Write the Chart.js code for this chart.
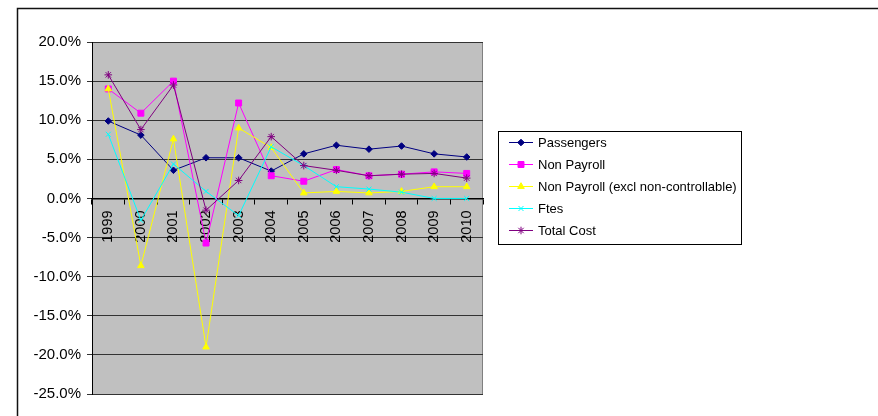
<!DOCTYPE html>
<html>
<head>
<meta charset="utf-8">
<script src="https://cdn.jsdelivr.net/npm/chart.js@4.4.0/dist/chart.umd.min.js"></script>
<style>
  html, body { margin: 0; padding: 0; background: #fff; }
  #wrap { width: 878px; height: 416px; position: relative; }
</style>
</head>
<body>
<div id="wrap"><canvas id="chart" width="878" height="416"></canvas></div>
<script>
// dati (variazione % anno su anno)
const years = ['1999', '2000', '2001', '2002', '2003', '2004', '2005', '2006', '2007', '2008', '2009', '2010'];
const passengers = [9.9, 8.1, 3.6, 5.2, 5.2, 3.5, 5.7, 6.8, 6.3, 6.7, 5.7, 5.3];
const nonPayroll = [14.0, 10.9, 15.0, -5.7, 12.2, 2.9, 2.2, 3.7, 2.9, 3.1, 3.4, 3.2];
const nonPayrollExcl = [14.0, -8.6, 7.6, -19.0, 9.0, 6.5, 0.7, 0.9, 0.7, 0.9, 1.5, 1.5];
const ftes = [8.2, -2.8, 4.4, 0.9, -2.2, 6.6, 4.2, 1.5, 1.2, 0.8, 0.0, 0.0];
const totalCost = [15.8, 8.8, 14.5, -1.5, 2.3, 7.9, 4.2, 3.6, 2.9, 3.1, 3.2, 2.6];

const seriesNames = ['Passengers', 'Non Payroll', 'Non Payroll (excl non-controllable)', 'Ftes', 'Total Cost'];
const yMin = -25, yMax = 20, yStep = 5;

const FONT = '"Liberation Sans", Arial, sans-serif';

function makeSet(label, data, color, style, radius, idx) {
    return {
        label: label,
        data: data,
        borderColor: color,
        backgroundColor: color,
        borderWidth: 1,
        pointStyle: style,
        pointRadius: radius,
        pointBorderWidth: 1,
        pointBorderColor: color,
        pointBackgroundColor: color,
        tension: 0,
        fill: false,
        order: 10 - idx // le ultime serie sopra, come in Excel
    };
}

const datasets = [
    makeSet(seriesNames[0], passengers, '#000080', 'rectRot', 3.3, 0),
    makeSet(seriesNames[1], nonPayroll, '#FF00FF', 'rect', 4.2, 1),
    makeSet(seriesNames[2], nonPayrollExcl, '#FFFF00', 'triangle', 3.8, 2),
    makeSet(seriesNames[3], ftes, '#00FFFF', 'crossRot', 3.5, 3),
    makeSet(seriesNames[4], totalCost, '#800080', 'star', 3.8, 4)
];

// sfondo grigio dell'area del grafico + cornice esterna
const plotBackground = {
    id: 'plotBackground',
    beforeDraw(chart) {
        const ctx = chart.ctx;
        const a = chart.chartArea;
        ctx.save();
        ctx.fillStyle = '#fff';
        ctx.fillRect(0, 0, chart.width, chart.height);
        ctx.fillStyle = '#C0C0C0';
        ctx.fillRect(a.left, a.top, a.right - a.left, a.bottom - a.top);
        ctx.strokeStyle = '#808080';
        ctx.lineWidth = 1;
        ctx.beginPath();
        ctx.moveTo(a.left, a.top + 0.5);
        ctx.lineTo(a.right - 0.5, a.top + 0.5);
        ctx.lineTo(a.right - 0.5, a.bottom);
        ctx.stroke();
        // cornice esterna
        ctx.strokeStyle = '#111';
        ctx.lineWidth = 1.5;
        ctx.beginPath();
        ctx.moveTo(17.5, chart.height + 2);
        ctx.lineTo(17.5, 8.5);
        ctx.lineTo(chart.width + 2, 8.5);
        ctx.stroke();
        ctx.restore();
    }
};

// legenda disegnata a mano, con riquadro
const boxLegend = {
    id: 'boxLegend',
    afterDraw(chart) {
        const ctx = chart.ctx;
        const x = 498, y = 131, w = 243, h = 113;
        ctx.save();
        ctx.strokeStyle = '#000';
        ctx.lineWidth = 1;
        ctx.strokeRect(x + 0.5, y + 0.5, w, h);
        ctx.font = '13px ' + FONT;
        ctx.textBaseline = 'middle';
        ctx.fillStyle = '#000';
        chart.data.datasets.forEach((ds, i) => {
            const cy = 142.5 + i * 22;
            ctx.strokeStyle = ds.borderColor;
            ctx.lineWidth = 1;
            ctx.beginPath();
            ctx.moveTo(509, cy);
            ctx.lineTo(533, cy);
            ctx.stroke();
            if (Chart.helpers && Chart.helpers.drawPoint) {
                ctx.fillStyle = ds.pointBackgroundColor;
                ctx.strokeStyle = ds.pointBorderColor;
                Chart.helpers.drawPoint(ctx, {
                    pointStyle: ds.pointStyle,
                    radius: ds.pointRadius,
                    rotation: 0,
                    borderWidth: 1
                }, 521, cy);
            }
            ctx.fillStyle = '#000';
            ctx.fillText(ds.label, 538, cy + 0.5);
        });
        ctx.restore();
    }
};

new Chart(document.getElementById('chart'), {
    type: 'line',
    data: { labels: years, datasets: datasets },
    options: {
        responsive: false,
        animation: false,
        layout: { padding: { left: 0, top: 42, right: 395, bottom: 22 } },
        plugins: {
            legend: { display: false },
            tooltip: { enabled: false }
        },
        scales: {
            x: {
                position: { y: 0 },
                offset: true,
                grid: {
                    offset: true,
                    drawOnChartArea: false,
                    drawTicks: true,
                    tickLength: 5,
                    color: '#000'
                },
                border: { display: true, color: '#000', width: 1.5 },
                ticks: {
                    autoSkip: false,
                    minRotation: 90,
                    maxRotation: 90,
                    padding: 7,
                    color: '#000',
                    font: { family: FONT, size: 14.5 }
                }
            },
            y: {
                min: yMin,
                max: yMax,
                afterFit(scale) { scale.width = 92; },
                grid: {
                    color: '#333',
                    lineWidth: 1,
                    tickLength: 5,
                    drawTicks: true
                },
                border: { display: true, color: '#000', width: 1 },
                ticks: {
                    stepSize: yStep,
                    padding: 6,
                    color: '#000',
                    font: { family: FONT, size: 15 },
                    callback: v => v.toFixed(1) + '%'
                }
            }
        }
    },
    plugins: [plotBackground, boxLegend]
});
</script>
</body>
</html>
